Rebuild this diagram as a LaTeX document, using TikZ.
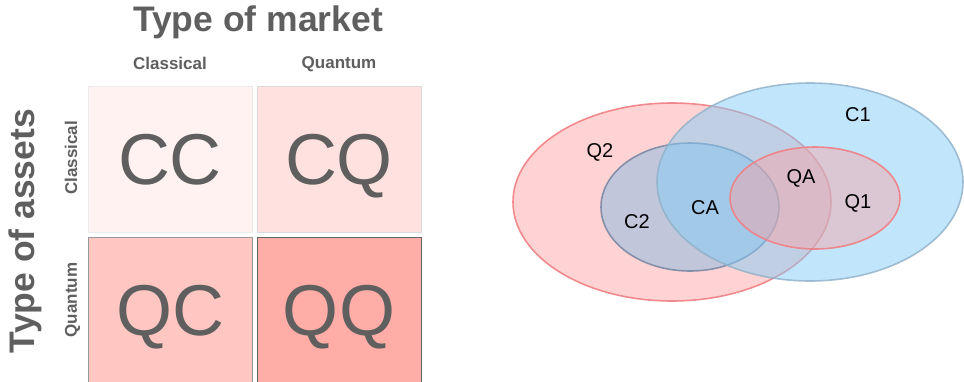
\documentclass[tikz,border=0pt]{standalone}
\usepackage{fontspec}
\setmainfont{Liberation Sans}
\usetikzlibrary{positioning}

\definecolor{txtgray}{HTML}{5F5F5F}
\definecolor{cellcc}{HTML}{FFF2F1}
\definecolor{cellcq}{HTML}{FFE2DF}
\definecolor{cellqc}{HTML}{FFC6C2}
\definecolor{cellqq}{HTML}{FFADA6}
\definecolor{redset}{HTML}{FF9E9E}
\definecolor{redline}{HTML}{F07F84}
\definecolor{blueset}{HTML}{84CCF6}
\definecolor{blueline}{HTML}{8FB0C8}
\definecolor{grayset}{HTML}{85B9E3}
\definecolor{grayline}{HTML}{6F819F}

\begin{document}
\begin{tikzpicture}[
    x=1pt, y=-1pt,
    node distance=4pt and 4pt,
    cell/.style={
      rectangle, draw=#1, line width=1pt,
      minimum width=164pt, minimum height=146pt,
      inner sep=0pt, text depth=0pt, text=txtgray,
      font=\fontsize{72}{72}\selectfont
    },
    head/.style={text=txtgray, font=\bfseries\fontsize{17}{17}\selectfont, inner sep=0pt, text depth=0pt},
    bighead/.style={text=txtgray, font=\bfseries\fontsize{35.5}{36}\selectfont, inner sep=0pt},
    setlabel/.style={text=black, font=\fontsize{20}{20}\selectfont, inner sep=0pt}
  ]
    \useasboundingbox (0,0) rectangle (964,381);

    % the four kinds of market
    \node[cell=black!8, fill=cellcc] (cc) at (170,159) {CC};
    \node[cell=black!14, fill=cellcq, right=of cc] (cq) {CQ};
    \node[cell=black!40, fill=cellqc, below=of cc] (qc) {QC};
    \node[cell=black!60, fill=cellqq, right=of qc] (qq) {QQ};

    \node[bighead] (market) at (258,22) {Type of market};
    \node[head] (mcl) at (cc.center |- 0,63) {Classical};
    \node[head] (mqu) at (cq.center |- 0,63) {Quantum};
    \node[bighead, rotate=90] (assets) at (25,231) {Type of assets};
    \node[head, rotate=90] (acl) at (71,158) {Classical};
    \node[head, rotate=90] (aqu) at (71,300) {Quantum};

    % sets
    \draw[redline, line width=1.6pt, fill=redset, fill opacity=0.45, draw opacity=0.9]
      (672,202) ellipse [x radius=159, y radius=99];
    \draw[grayline, line width=1.6pt, fill=grayset, fill opacity=0.5, draw opacity=0.8]
      (690,207) ellipse [x radius=89, y radius=64];
    \draw[blueline, line width=1.6pt, fill=blueset, fill opacity=0.5, draw opacity=0.8]
      (810,182) ellipse [x radius=153, y radius=99];
    \draw[redline, line width=1.6pt, fill=redset, fill opacity=0.42, draw opacity=0.9]
      (815,198) ellipse [x radius=85, y radius=51];

    \node[setlabel] (c1) at (858,115) {C1};
    \node[setlabel] (q2) at (600,152) {Q2};
    \node[setlabel] (qa) at (801,178) {QA};
    \node[setlabel] (q1) at (858,203) {Q1};
    \node[setlabel] (ca) at (705,208) {CA};
    \node[setlabel] (c2) at (637,222) {C2};
  \end{tikzpicture}
\end{document}
